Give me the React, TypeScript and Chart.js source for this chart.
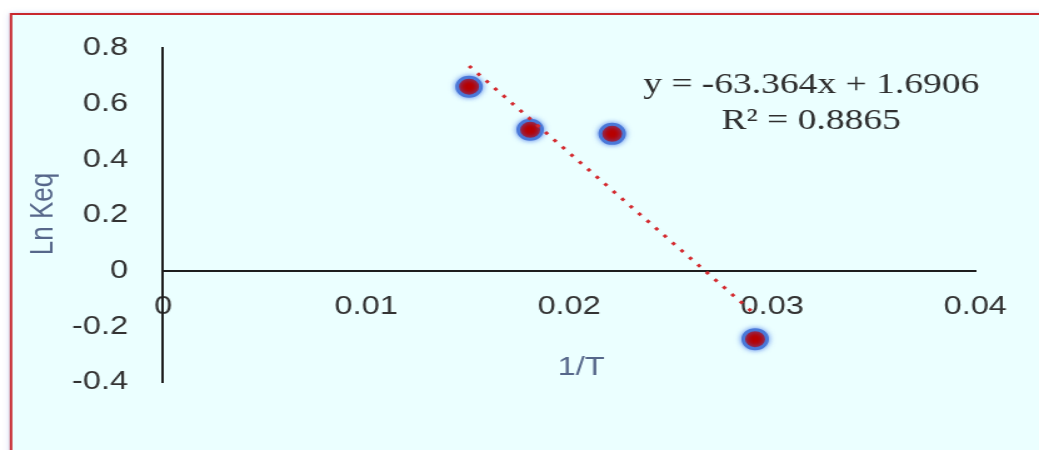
import React, { useEffect, useRef } from 'react';
import { Chart, registerables } from 'chart.js';

Chart.register(...registerables);

// ---- data ----
const invT = [0.01507, 0.01808, 0.02212, 0.02916];
const lnKeq = [0.661, 0.506, 0.4915, -0.246];
const trendSlope = -63.364;
const trendIntercept = 1.6906;
const xTicks = [0, 0.01, 0.02, 0.03, 0.04];
const xTickLabels = ['0', '0.01', '0.02', '0.03', '0.04'];
const yTicks = [-0.4, -0.2, 0, 0.2, 0.4, 0.6, 0.8];
const yTickLabels = ['-0.4', '-0.2', '0', '0.2', '0.4', '0.6', '0.8'];
const xTitle = '1/T';
const yTitle = 'Ln Keq';
const equationLine = 'y = -63.364x + 1.6906';
const r2Line = 'R\u00B2 = 0.8865';

// ---- layout (canvas is drawn narrower and stretched horizontally) ----
const PAGE_W = 1039;
const PAGE_H = 450;
const SX = 1.25;
const BUF_W = Math.round(PAGE_W / SX);

const tickFont = { family: '"Liberation Sans", Arial, sans-serif', size: 26 };

const framePlugin = {
  id: 'frame',
  beforeDraw(chart: any) {
    const { ctx, width, height } = chart;
    const fx = 11 / SX;
    const fy = 14;
    ctx.save();
    ctx.fillStyle = '#ffffff';
    ctx.fillRect(0, 0, width, height);
    ctx.shadowColor = 'rgba(110,140,220,0.55)';
    ctx.shadowBlur = 5;
    ctx.shadowOffsetX = -1;
    ctx.fillStyle = '#ebffff';
    ctx.fillRect(fx, fy, width - fx + 20, height - fy + 20);
    ctx.shadowColor = 'transparent';
    ctx.strokeStyle = '#c8282e';
    ctx.lineWidth = 2;
    ctx.beginPath();
    ctx.moveTo(fx, height + 5);
    ctx.lineTo(fx, fy);
    ctx.lineTo(width + 5, fy);
    ctx.stroke();
    ctx.restore();
  },
  beforeDatasetDraw(chart: any, args: any) {
    if (args.meta.type === 'scatter') {
      const ctx = chart.ctx;
      ctx.save();
      ctx.shadowColor = 'rgba(70,120,235,0.8)';
      ctx.shadowBlur = 5;
    }
  },
  afterDatasetDraw(chart: any, args: any) {
    if (args.meta.type === 'scatter') {
      chart.ctx.restore();
    }
  },
  afterDraw(chart: any) {
    const { ctx } = chart;
    ctx.save();
    ctx.fillStyle = '#56678a';
    ctx.font = '26px "Liberation Sans", Arial, sans-serif';
    ctx.textAlign = 'center';
    ctx.textBaseline = 'middle';
    ctx.fillText(xTitle, 581 / SX, 368);
    ctx.save();
    ctx.translate(43 / SX, 214);
    ctx.rotate(-Math.PI / 2);
    ctx.fillText(yTitle, 0, 0);
    ctx.restore();
    ctx.fillStyle = '#2e2e2e';
    ctx.font = '30px "Liberation Serif", "Times New Roman", serif';
    ctx.textBaseline = 'alphabetic';
    ctx.fillText(equationLine, 811 / SX, 93);
    ctx.fillText(r2Line, 811 / SX, 129);
    ctx.restore();
  },
};

export default function App() {
  const canvasRef = useRef<HTMLCanvasElement | null>(null);

  useEffect(() => {
    const canvas = canvasRef.current;
    if (!canvas) return;
    const xMin = Math.min(...invT);
    const xMax = Math.max(...invT);
    const trend = [
      { x: xMin, y: trendSlope * xMin + trendIntercept },
      { x: xMax, y: trendSlope * xMax + trendIntercept },
    ];
    const chart = new Chart(canvas, {
      type: 'scatter',
      data: {
        datasets: [
          {
            type: 'scatter',
            label: 'Ln Keq',
            data: invT.map((x, i) => ({ x, y: lnKeq[i] })),
            backgroundColor: '#b80000',
            borderColor: '#4a78d8',
            borderWidth: 3,
            pointRadius: 9.5,
            pointHoverRadius: 9.5,
            order: 2,
          },
          {
            type: 'line',
            label: 'Linear',
            data: trend,
            borderColor: '#d42a2f',
            borderWidth: 3,
            borderDash: [3, 7],
            borderCapStyle: 'butt',
            pointRadius: 0,
            fill: false,
            showLine: true,
            order: 1,
          },
        ],
      } as any,
      options: {
        animation: false,
        responsive: false,
        devicePixelRatio: 1,
        events: [],
        layout: { padding: { left: 0, top: 48, right: BUF_W - 975 / SX, bottom: PAGE_H - 382 } },
        plugins: { legend: { display: false }, tooltip: { enabled: false }, title: { display: false } },
        scales: {
          x: {
            type: 'linear',
            min: 0,
            max: 0.04,
            position: { y: 0 } as any,
            afterBuildTicks: (s: any) => {
              s.ticks = xTicks.map((v) => ({ value: v }));
            },
            afterFit: (s: any) => {
              s.height = 0;
            },
            ticks: {
              callback: (_v: any, i: number) => xTickLabels[i],
              font: tickFont,
              color: '#333333',
              padding: 21,
              autoSkip: false,
              maxRotation: 0,
              minRotation: 0,
            },
            grid: { display: false, drawTicks: false },
            border: { display: true, color: '#1e1e1e', width: 2 },
          },
          y: {
            type: 'linear',
            min: -0.4,
            max: 0.8,
            position: 'left',
            afterBuildTicks: (s: any) => {
              s.ticks = yTicks.map((v) => ({ value: v }));
            },
            afterFit: (s: any) => {
              s.width = 163 / SX;
            },
            ticks: {
              callback: (_v: any, i: number) => yTickLabels[i],
              font: tickFont,
              color: '#333333',
              padding: 28,
              autoSkip: false,
            },
            grid: { display: false, drawTicks: false },
            border: { display: true, color: '#1e1e1e', width: 2 },
          },
        },
      } as any,
      plugins: [framePlugin],
    });
    return () => chart.destroy();
  }, []);

  return (
    <div style={{ position: 'absolute', left: 0, top: 0, width: PAGE_W, height: PAGE_H, overflow: 'hidden' }}>
      <canvas
        ref={canvasRef}
        width={BUF_W}
        height={PAGE_H}
        style={{ width: PAGE_W + 'px', height: PAGE_H + 'px', display: 'block', filter: 'blur(0.4px)' }}
      />
    </div>
  );
}
